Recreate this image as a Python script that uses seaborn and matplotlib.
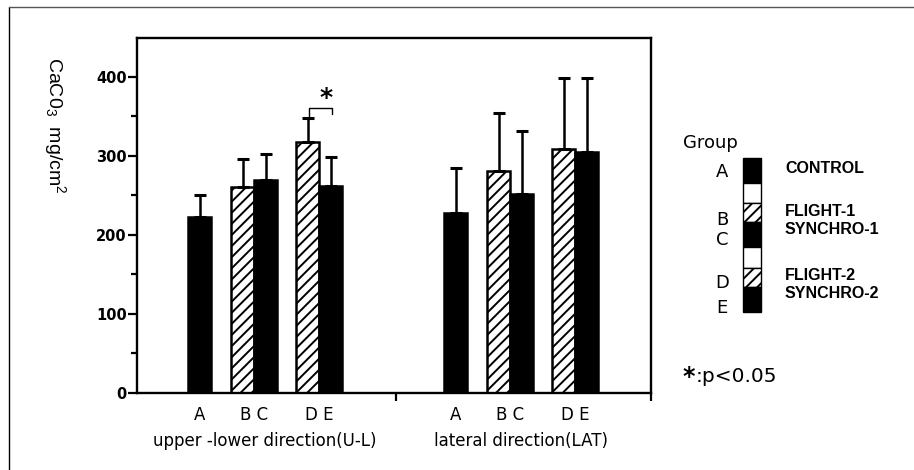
import numpy as np
import pandas as pd
import matplotlib
matplotlib.use("Agg")
import matplotlib.pyplot as plt
from matplotlib.patches import Rectangle
from matplotlib.lines import Line2D
from matplotlib.transforms import blended_transform_factory
import seaborn as sns

# 데이터
directions = ["upper -lower direction(U-L)", "lateral direction(LAT)"]
groups = ["A", "B", "C", "D", "E"]
ul_mean = [223, 261, 269, 318, 262]
ul_sd = [27, 35, 33, 30, 37]
lat_mean = [228, 281, 252, 309, 305]
lat_sd = [57, 73, 79, 90, 94]
group_names = ["CONTROL", "FLIGHT-1", "SYNCHRO-1", "FLIGHT-2", "SYNCHRO-2"]

# 배치 (막대 폭 = 1)
dir_base = [2.72, 13.85]
grp_off = [0.0, 1.87, 2.87, 4.70, 5.70]
XMAX = 22.35

W, H = 914, 470
SANS = ["DejaVu Sans"]
HEAVY = ["Liberation Sans", "DejaVu Sans"]


def fx(x):
    return x / W


def fy(y):
    return 1 - y / H


rows = []
for d, (means, sds) in enumerate([(ul_mean, ul_sd), (lat_mean, lat_sd)]):
    for g, grp in enumerate(groups):
        rows.append({"direction": directions[d], "group": grp,
                     "pos": dir_base[d] + grp_off[g],
                     "mean": means[g], "sd": sds[g]})
df = pd.DataFrame(rows)

sns.set_style("ticks")
plt.rcParams["font.family"] = SANS
plt.rcParams["mathtext.default"] = "regular"
plt.rcParams["hatch.linewidth"] = 1.4
for k in ["text.color", "axes.labelcolor", "xtick.color", "ytick.color",
          "axes.edgecolor"]:
    plt.rcParams[k] = "black"

fig = plt.figure(figsize=(W / 100, H / 100), dpi=100)
ax = fig.add_axes([fx(137), fy(393), fx(651) - fx(137), fy(38) - fy(393)])

colors = {"A": "black", "B": "white", "C": "black", "D": "white", "E": "black"}
sns.barplot(data=df, x="pos", y="mean", hue="group", hue_order=groups,
            palette=colors, native_scale=True, dodge=False, width=1.0,
            errorbar=None, edgecolor="black", linewidth=1.8,
            legend=False, ax=ax)

for i, cont in enumerate(ax.containers):
    if groups[i] in ("B", "D"):
        for p in cont:
            p.set_hatch("///")

ax.errorbar(df["pos"], df["mean"], yerr=[np.zeros(len(df)), df["sd"]],
            fmt="none", ecolor="black", elinewidth=1.8, capsize=4.3,
            capthick=2.2, zorder=3)

# 유의성 표시 (D vs E, U-L)
ul = df[df["direction"] == directions[0]].set_index("group")
xd, xe = ul.loc["D", "pos"], ul.loc["E", "pos"]
td = ul.loc["D", "mean"] + ul.loc["D", "sd"]
te = ul.loc["E", "mean"] + ul.loc["E", "sd"]
top = max(td, te) + 12
ax.plot([xd + 0.08, xd + 0.08, xe + 0.06, xe + 0.06],
        [td, top, top, top - 7], color="black", lw=1.0)
ax.text((xd + xe) / 2 + 0.3, top - 2, "*", ha="center", va="bottom",
        fontsize=18, fontweight="bold")

ax.set_xlim(0, XMAX)
ax.set_ylim(0, 449)
ax.set_yticks([0, 100, 200, 300, 400])
ax.set_yticks([50, 150, 250, 350], minor=True)
ax.tick_params(axis="y", which="major", length=6.5, width=1.6,
               labelsize=10.5, pad=1)
ax.tick_params(axis="y", which="minor", length=4, width=1.6)
for lab in ax.get_yticklabels():
    lab.set_fontweight("bold")

# x축: 눈금 라벨
lab_pos, lab_txt = [], []
for d in range(2):
    p = df[df["direction"] == directions[d]].set_index("group")["pos"]
    lab_pos += [p["A"], (p["B"] + p["C"]) / 2, (p["D"] + p["E"]) / 2]
    lab_txt += ["A", "B C", "D E"]
ax.set_xticks(lab_pos)
ax.set_xticklabels(lab_txt, fontsize=12)
ax.tick_params(axis="x", which="major", length=0, pad=9)
ax.set_xticks([11.26, XMAX], minor=True)
ax.tick_params(axis="x", which="minor", length=6, width=1.6)
ax.set_xlabel("")
ax.set_ylabel("")

for s in ax.spines.values():
    s.set_linewidth(1.7)
    s.set_visible(True)

trans = blended_transform_factory(ax.transData, fig.transFigure)
for d in range(2):
    p = df[df["direction"] == directions[d]]["pos"]
    fig.text((p.min() + p.max()) / 2, fy(441), directions[d],
             transform=trans, ha="center", va="center", fontsize=12)

fig.text(fx(55), fy(57), "CaC0$_3$  mg/cm$^2$", rotation=270,
         ha="center", va="top", fontsize=14, family=HEAVY)

# 범례 (Group)
fig.text(fx(683), fy(143), "Group", ha="left", va="center", fontsize=13)
letter_y = [172, 220, 240, 283, 308]
for g, yy in zip(groups, letter_y):
    fig.text(fx(722), fy(yy), g, ha="center", va="center", fontsize=13)
segments = [(158, 183, "black", ""), (183, 203, "white", ""),
            (203, 222, "white", "///"), (222, 247, "black", ""),
            (247, 268, "white", ""), (268, 287, "white", "///"),
            (287, 312, "black", "")]
for y0, y1, c, h in segments:
    fig.patches.append(Rectangle((fx(743), fy(y1)), fx(761) - fx(743),
                                 fy(y0) - fy(y1), facecolor=c, hatch=h,
                                 edgecolor="black", linewidth=1.0,
                                 transform=fig.transFigure, figure=fig))
name_y = [168, 212, 230, 275, 293]
for n, yy in zip(group_names, name_y):
    fig.text(fx(785), fy(yy), n, ha="left", va="center", fontsize=11.5,
             fontweight="bold", family=HEAVY)

fig.text(fx(682), fy(377), "*", ha="left", va="center", fontsize=17,
         fontweight="bold")
fig.text(fx(696), fy(377), ":p<0.05", ha="left", va="center", fontsize=14.5)

# 외곽선
fig.add_artist(Line2D([fx(9), fx(9)], [0, fy(7)], color="black", lw=1.0,
                      transform=fig.transFigure))
fig.add_artist(Line2D([fx(9), 1], [fy(7), fy(7)], color="#555555", lw=1.0,
                      transform=fig.transFigure))

fig.savefig("out.png", dpi=100)
